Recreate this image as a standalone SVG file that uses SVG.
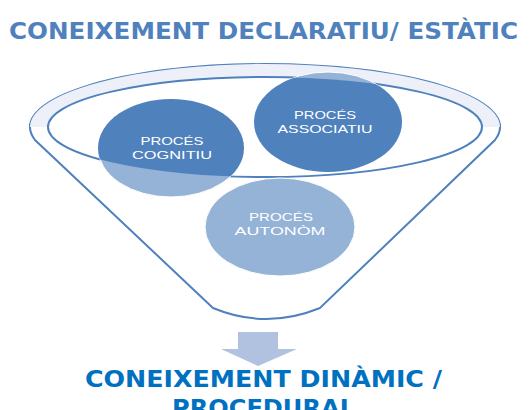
<svg xmlns="http://www.w3.org/2000/svg" width="532" height="410" viewBox="0 0 532 410">
<style>
.title{font-family:"DejaVu Sans",Verdana,sans-serif;font-weight:bold;font-size:23px;fill:#4f81bd}
.bottom{font-family:"DejaVu Sans",Verdana,sans-serif;font-weight:bold;font-size:23px;fill:#0070c0}
.lbl{font-family:"Liberation Sans",Arial,sans-serif;font-size:11.5px;fill:#ffffff;text-anchor:middle}
.line{fill:none;stroke:#4f81bd;stroke-width:2}
.light{fill:#95b3d7;stroke:#ffffff;stroke-width:1}
.dark{fill:#4f81bd}
</style>
<defs>
<clipPath id="inner"><ellipse cx="265" cy="127" rx="217" ry="50"/></clipPath>
</defs>
<rect width="532" height="410" fill="#ffffff"/>
<text class="title" x="9" y="39" textLength="509" lengthAdjust="spacingAndGlyphs">CONEIXEMENT DECLARATIU/ ESTÀTIC</text>
<g id="funnel">
<path d="M213,308 L35,140 A235 63 0 1 1 495,140 L320,308 Q266,330 213,308 Z" fill="#ffffff" stroke="#4f81bd" stroke-width="2"/>
<path d="M30,127 A235 63 0 0 1 500,127 L482,127 A217 50 0 0 0 48,127 Z" fill="#edf0f8"/>
<ellipse class="line" cx="265" cy="127" rx="217" ry="50"/>
</g>
<g id="node-cognitiu">
<ellipse class="light" cx="171" cy="148" rx="73" ry="49"/>
<ellipse class="dark" cx="171" cy="148" rx="73" ry="49" clip-path="url(#inner)"/>
<text class="lbl" x="172" y="145" textLength="63" lengthAdjust="spacingAndGlyphs">PROCÉS</text>
<text class="lbl" x="172" y="159" textLength="80" lengthAdjust="spacingAndGlyphs">COGNITIU</text>
</g>
<g id="node-associatiu">
<ellipse class="light" cx="328" cy="122" rx="74" ry="50"/>
<ellipse class="dark" cx="328" cy="122" rx="74" ry="50" clip-path="url(#inner)"/>
<text class="lbl" x="325" y="119" textLength="62" lengthAdjust="spacingAndGlyphs">PROCÉS</text>
<text class="lbl" x="325" y="133" textLength="95" lengthAdjust="spacingAndGlyphs">ASSOCIATIU</text>
</g>
<g id="node-autonom">
<ellipse class="light" cx="280" cy="227" rx="75" ry="49"/>
<text class="lbl" x="281" y="221" textLength="64" lengthAdjust="spacingAndGlyphs">PROCÉS</text>
<text class="lbl" x="280" y="235" textLength="91" lengthAdjust="spacingAndGlyphs">AUTONÒM</text>
</g>
<g id="connectors">
<polygon points="238,332 278,332 278,349 297,349 258,366 221,349 238,349" fill="#b0c2df"/>
</g>
<g id="result">
<text class="bottom" x="85" y="387" textLength="357" lengthAdjust="spacingAndGlyphs">CONEIXEMENT DINÀMIC /</text>
<text class="bottom" x="172" y="416" textLength="183" lengthAdjust="spacingAndGlyphs">PROCEDURAL</text>
</g>
</svg>
